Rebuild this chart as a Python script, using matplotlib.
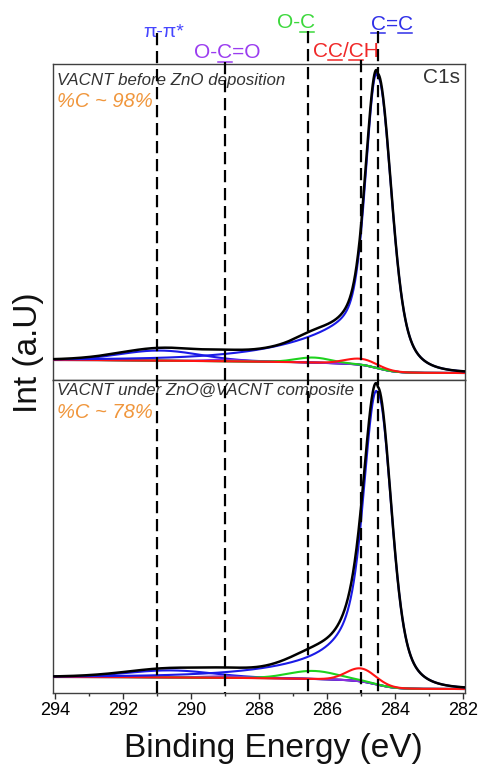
import numpy as np
import matplotlib
matplotlib.use("Agg")
import matplotlib.pyplot as plt
from matplotlib.lines import Line2D
from matplotlib.font_manager import FontProperties
from matplotlib.transforms import blended_transform_factory

FAMILY = ['Liberation Sans', 'DejaVu Sans']
plt.rcParams['font.family'] = FAMILY

# ---------------------------------------------------------------- data
energy_ticks = [294, 292, 290, 288, 286, 284, 282]

# reference binding energies of the C1s chemical states
line_labels = ["π-π*", "O-C=O", "O-C", "CC/CH", "C=C"]
line_positions = [291.0, 289.0, 286.55, 285.0, 284.5]
line_label_colors = ["#4646ff", "#9a3cf0", "#3cd83c", "#f02828", "#2f2fe8"]
underlined_chars = [[], [2], [2], [1, 3], [0, 2]]

# fitted components, order: pi-pi*, O-C=O, O-C, CC/CH, C=C
component_colors = ["#1a1ae6", "#8c2ee0", "#1ed21e", "#ff1414", "#1a1ae6"]

before_title = "VACNT before ZnO deposition"
before_carbon = "%C ~ 98%"
before_centers = [290.9, 289.0, 286.4, 285.0, 284.5]
before_heights = [10.0, 1.5, 5.0, 6.0, 291.0]
before_fwhm = [2.8, 1.2, 1.2, 1.1]
# C=C line shape: low-BE (hw, eta, wl), high-BE (hw, eta, wl), tail (amp, rise, decay)
before_cc_shape = [0.42, 0.45, 0.9, 0.37, 0.35, 0.7, 0.239, 0.5, 1.99]
before_background = [20.0, 7.0]   # Shirley levels: high-BE side, low-BE side

after_title = "VACNT under ZnO@VACNT composite"
after_carbon = "%C ~ 78%"
after_centers = [290.6, 289.0, 286.4, 285.0, 284.5]
after_heights = [7.0, 1.5, 8.0, 13.0, 291.0]
after_fwhm = [3.0, 1.3, 1.7, 1.0]
after_cc_shape = [0.42, 0.45, 0.9, 0.40, 0.50, 0.9, 0.18, 0.5, 1.99]
after_background = [16.0, 4.0]


# ---------------------------------------------------------------- model
energy = np.linspace(281.9, 294.1, 2441)


def gauss(e, c, h, fwhm):
    return h * np.exp(-4.0 * np.log(2.0) * ((e - c) / fwhm) ** 2)


def core(d, hw, eta, wl):
    return (1 - eta) * np.exp(-np.log(2.0) * (d / hw) ** 2) + eta / (1 + (d / wl) ** 2) ** 2


def cc_peak(e, c, h, s):
    d = e - c
    dp = np.clip(d, 0, None)
    low = core(-d, s[0], s[1], s[2])
    high = core(d, s[3], s[4], s[5]) + s[6] * (1 - np.exp(-dp / s[7])) * np.exp(-dp / s[8])
    return h * np.where(d < 0, low, high)


def fit_curves(centers, heights, fwhm, cc_shape, background):
    comps = [gauss(energy, c, h, w) for c, h, w in zip(centers[:4], heights[:4], fwhm)]
    comps.append(cc_peak(energy, centers[4], heights[4], cc_shape))
    total = np.sum(comps, axis=0)
    cum = np.concatenate([[0.0], np.cumsum(0.5 * (total[1:] + total[:-1]) * np.diff(energy))])
    high, low = background
    bg = low + (high - low) * cum / cum[-1]
    return bg, comps, bg + total


# ---------------------------------------------------------------- figure
W, H = 487, 767
fig = plt.figure(figsize=(W / 100, H / 100), dpi=100)
ax_top = fig.add_axes([53 / W, 1 - 380 / H, 412 / W, 316 / H])
ax_bot = fig.add_axes([53 / W, 1 - 693 / H, 412 / W, 313 / H])

panels = [
    (ax_top, before_centers, before_heights, before_fwhm, before_cc_shape, before_background, 316),
    (ax_bot, after_centers, after_heights, after_fwhm, after_cc_shape, after_background, 313),
]

for ax, cen, hei, fw, shp, bgl, ytop in panels:
    bg, comps, env = fit_curves(cen, hei, fw, shp, bgl)
    ax.plot(energy, bg, color="black", lw=1.4, zorder=2)
    for comp, col in zip(comps, component_colors):
        ax.plot(energy, bg + comp, color=col, lw=1.5, zorder=3)
    ax.plot(energy, env, color="black", lw=1.8, zorder=4)
    ax.set_xlim(294.06, 281.94)
    ax.set_ylim(0, ytop)
    ax.set_yticks([])
    for sp in ax.spines.values():
        sp.set_color("#404040")
        sp.set_linewidth(1.0)

ax_top.set_xticks([])
ax_bot.set_xticks(energy_ticks)
ax_bot.set_xticks(np.arange(282, 295, 1), minor=True)
ax_bot.tick_params(axis="x", which="major", direction="out", length=4.5, width=1.0,
                   labelsize=13, pad=2, color="#303030")
ax_bot.tick_params(axis="x", which="minor", direction="out", length=2.5, width=1.0,
                   color="#303030")

# panel annotations
txt_color = "#333333"
orange = "#f0963c"
ax_top.text(4 / 412, (380 - 85) / 316, before_title, transform=ax_top.transAxes,
            fontsize=12.2, style="italic", color=txt_color, va="baseline", ha="left")
ax_top.text(4 / 412, (380 - 107) / 316, before_carbon, transform=ax_top.transAxes,
            fontsize=14.5, style="italic", color=orange, va="baseline", ha="left")
ax_top.text((460 - 53) / 412, (380 - 83) / 316, "C1s", transform=ax_top.transAxes,
            fontsize=15, color=txt_color, va="baseline", ha="right")
ax_bot.text(4 / 412, (693 - 395) / 313, after_title, transform=ax_bot.transAxes,
            fontsize=12.2, style="italic", color=txt_color, va="baseline", ha="left")
ax_bot.text(4 / 412, (693 - 418) / 313, after_carbon, transform=ax_bot.transAxes,
            fontsize=14.5, style="italic", color=orange, va="baseline", ha="left")

# reference lines for each chemical state, running from the axis up to the labels
line_tops_px = [33, 62, 31, 60, 31]
label_baseline_px = [36.7, 58.3, 28.3, 56.7, 30.0]
label_offset_px = [-13.7, -31.0, -31.6, -48.3, -7.3]
label_size = [14, 15, 15, 15, 15]

blend = blended_transform_factory(ax_bot.transData, fig.transFigure)
for pos, ytop in zip(line_positions, line_tops_px):
    ln = Line2D([pos, pos], [1 - ytop / H, 1 - 693 / H], transform=blend,
                color="black", lw=1.6, dashes=(5.5, 2.6), zorder=6)
    fig.add_artist(ln)

renderer = fig.canvas.get_renderer()
for text, pos, col, uidx, base, off, size in zip(line_labels, line_positions, line_label_colors,
                                                 underlined_chars, label_baseline_px,
                                                 label_offset_px, label_size):
    prop = FontProperties(family=FAMILY, size=size)
    x_line = ax_bot.transData.transform((pos, 0))[0]
    x0 = x_line + off
    fig.text(x0 / W, 1 - base / H, text, fontproperties=prop, color=col,
             ha="left", va="baseline")
    for i in uidx:
        wa = renderer.get_text_width_height_descent(text[:i], prop, ismath=False)[0] if i > 0 else 0.0
        wb = renderer.get_text_width_height_descent(text[:i + 1], prop, ismath=False)[0]
        uy = 1 - (base + 3.2) / H
        fig.add_artist(Line2D([(x0 + wa + 0.5) / W, (x0 + wb - 0.5) / W], [uy, uy],
                              transform=fig.transFigure, color=col, lw=1.1))

fig.text(29 / W, 1 - 353 / H, "Int (a.U)", rotation=90, fontsize=24,
         ha="center", va="center", color="#111111")
fig.text(273 / W, 1 - 748 / H, "Binding Energy (eV)", fontsize=24,
         ha="center", va="center", color="#111111")

fig.savefig("out.png", dpi=100)
